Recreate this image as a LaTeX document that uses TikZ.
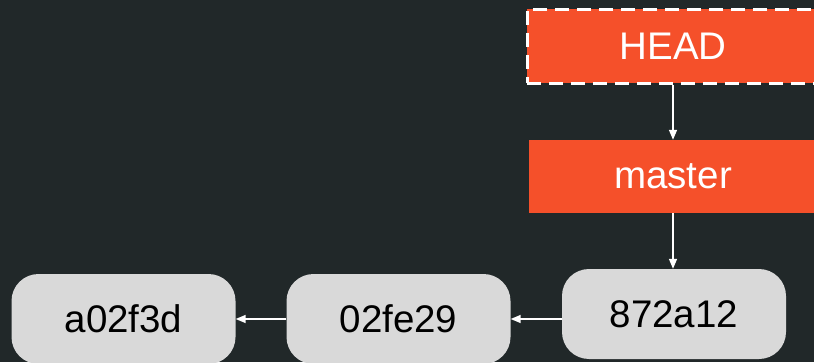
\documentclass[tikz,border=0pt]{standalone}
\usepackage{fontspec}
\setmainfont{Liberation Sans}
\usetikzlibrary{arrows.meta}
\definecolor{bg}{HTML}{212829}
\definecolor{gitorange}{HTML}{F5502A}
\definecolor{commitgray}{HTML}{D9D9D9}
\begin{document}
\begin{tikzpicture}[x=1pt,y=1pt,
  refbox/.style={fill=gitorange, text=white, font=\fontsize{38.5}{40}\selectfont,
    minimum width=288, minimum height=73, inner sep=0, anchor=center},
  commit/.style={fill=commitgray, rounded corners=27, text=black,
    font=\fontsize{38.5}{40}\selectfont, minimum width=224, minimum height=90, inner sep=0},
  link/.style={draw=white, line width=1.5, -{Triangle[width=8,length=10]}}]
\fill[bg] (0,0) rectangle (814,362);
\useasboundingbox (0,0) rectangle (814,362);
\node[refbox, draw=white, dash pattern=on 14 off 8, line width=3, minimum width=292, minimum height=74] (head) at (673,315.5) {HEAD};
\node[refbox] (master) at (673,185.5) {master};
\node[commit] (c3) at (674,48) {872a12};
\node[commit] (c2) at (398.5,43) {02fe29};
\node[commit] (c1) at (123.5,43) {a02f3d};
\draw[link] (head.south) -- (master.north);
\draw[link] (master.south) -- (master.south |- c3.north);
\draw[link] (c3.west |- c2.center) -- (c2.east);
\draw[link] (c2.west) -- (c1.east);
\end{tikzpicture}
\end{document}
